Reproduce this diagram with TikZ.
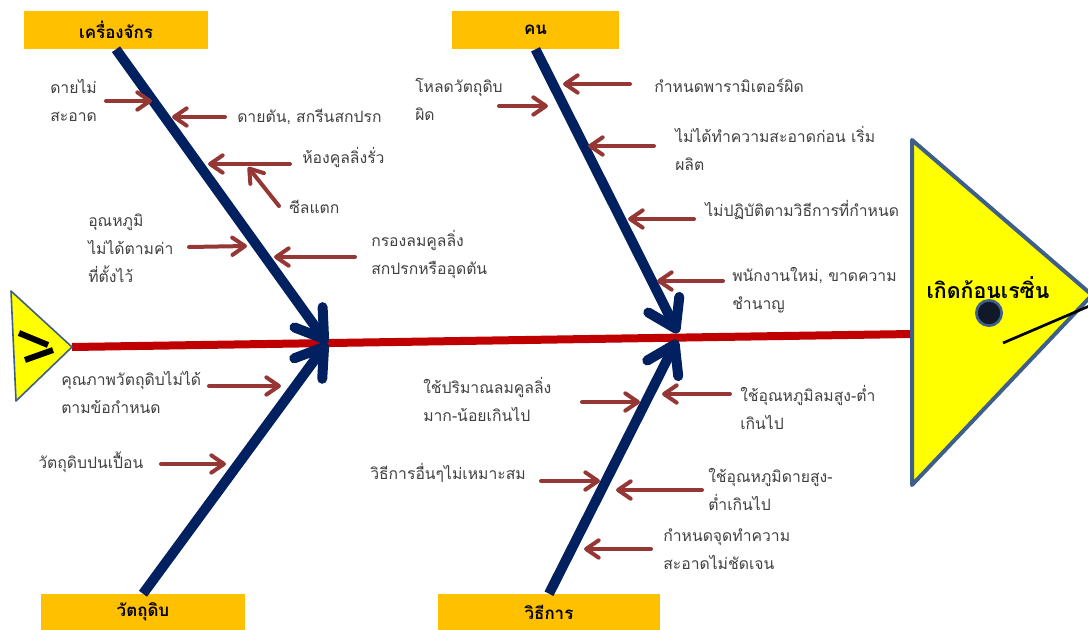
\documentclass[tikz,border=0pt]{standalone}
\usepackage{fontspec}
\newfontfamily\thaifont[Script=Thai]{Loma}
\usetikzlibrary{arrows.meta}
\definecolor{navy}{HTML}{002060}
\definecolor{spinered}{HTML}{C00000}
\definecolor{causered}{HTML}{953735}
\definecolor{catorange}{HTML}{FFC000}
\definecolor{headyellow}{HTML}{FFFF00}
\definecolor{triborder}{HTML}{3E5F8C}
\definecolor{txtgray}{HTML}{404040}
\definecolor{dotfill}{HTML}{111827}
\tikzset{
  catbox/.style={fill=catorange, draw=none, inner sep=0pt, minimum height=28.5pt,
    font=\thaifont\bfseries\fontsize{12.7}{15}\selectfont, text=black},
  causetxt/.style={anchor=base west, inner sep=0pt, align=left, text=txtgray,
    font=\thaifont\fontsize{11.8}{21}\selectfont},
  cause/.style={draw=causered, line width=3pt, line cap=round,
    -{Straight Barb[length=9.5pt,width=13pt,round]}},
  bone/.style={draw=navy, line width=7.5pt,
    -{Straight Barb[length=20pt,width=26pt,round]}},
  spine/.style={draw=spinered, line width=6pt},
  headtri/.style={fill=headyellow, draw=triborder, line width=3pt, line join=round},
  tailtri/.style={fill=headyellow, draw=triborder, line width=1.2pt, line join=round},
  tailmark/.style={draw=black, line width=4.5pt},
}
\begin{document}
\begin{tikzpicture}[x=0.75pt,y=-0.75pt]
\useasboundingbox (0,0) rectangle (1088,629);
\clip (0,0) rectangle (1088,629);

% category boxes
\node[catbox, minimum width=138pt] (mach) at (116,30) {เครื่องจักร};
\node[catbox, minimum width=125.25pt] (ppl) at (535.5,30) {คน};
\node[catbox, minimum width=153pt, minimum height=27pt] (mat) at (143,612) {วัตถุดิบ};
\node[catbox, minimum width=166.5pt, minimum height=27pt] (meth) at (549,612) {วิธีการ};

% spine
\coordinate (tailtip) at (72,347);
\coordinate (headmid) at (912,334);
\draw[spine] (tailtip) -- (headmid);

% bones
\coordinate (J1) at (327,343);
\coordinate (J2a) at (678,333);
\coordinate (J2b) at (677,340);
\draw[bone] (mach.south) -- (J1);
\draw[bone] (mat.north) -- (J1);
\draw[bone] (ppl.south) -- (J2a);
\draw[bone] (meth.north) -- (J2b);

% head
\coordinate (hA) at (912,140);
\coordinate (hB) at (1092,295);
\coordinate (hC) at (912,485);
\draw[headtri] (hA) -- (hB) -- (hC) -- cycle;
\node[inner sep=0pt, font=\thaifont\bfseries\fontsize{16}{19}\selectfont] (effect) at (988,288) {เกิดก้อนเรซิ่น};
\node[circle, fill=dotfill, draw=triborder, line width=2pt, minimum size=19pt, inner sep=0pt] (dot) at (989,313) {};
\coordinate (ln1) at (1003,343);
\coordinate (ln2) at (1094,304);
\draw[black, line width=2pt] (ln1) -- (ln2);

% tail
\coordinate (tA) at (11,291);
\coordinate (tC) at (16,401);
\draw[tailtri] (tA) -- (tailtip) -- (tC) -- cycle;
\coordinate (m1a) at (19,333);
\coordinate (m1b) at (48,345);
\coordinate (m2a) at (25,360);
\coordinate (m2b) at (53,350);
\draw[tailmark] (m1a) -- (m1b);
\draw[tailmark] (m2a) -- (m2b);

% machine causes (base = last line baseline)
\node[causetxt] (tM1) at (50,121) {ดายไม่\\สะอาด};
\node[causetxt] (tM2) at (237,122) {ดายตัน, สกรีนสกปรก};
\node[causetxt] (tM3) at (302,163) {ห้องคูลลิ่งรั่ว};
\node[causetxt] (tM4) at (289,213) {ซีลแตก};
\node[causetxt] (tM5) at (88,282) {อุณหภูมิ\\ไม่ได้ตามค่า\\ที่ตั้งไว้};
\node[causetxt] (tM6) at (371,274) {กรองลมคูลลิ่ง\\สกปรกหรืออุดตัน};
\coordinate (aM1s) at (106,101); \coordinate (aM1e) at (152,101);
\coordinate (aM2s) at (225,117); \coordinate (aM2e) at (172,117);
\coordinate (aM3s) at (290,164); \coordinate (aM3e) at (208,164);
\coordinate (aM4s) at (279,206); \coordinate (aM4e) at (248,167);
\coordinate (aM5s) at (189,247); \coordinate (aM5e) at (247,246);
\coordinate (aM6s) at (355,257); \coordinate (aM6e) at (274,257);
\draw[cause] (aM1s) -- (aM1e);
\draw[cause] (aM2s) -- (aM2e);
\draw[cause] (aM3s) -- (aM3e);
\draw[cause] (aM4s) -- (aM4e);
\draw[cause] (aM5s) -- (aM5e);
\draw[cause] (aM6s) -- (aM6e);

% people causes
\node[causetxt] (tP1) at (415,120) {โหลดวัตถุดิบ\\ผิด};
\node[causetxt] (tP2) at (654,92) {กำหนดพารามิเตอร์ผิด};
\node[causetxt] (tP3) at (675,170) {ไม่ได้ทำความสะอาดก่อน เริ่ม\\ผลิต};
\node[causetxt] (tP4) at (705,216) {ไม่ปฏิบัติตามวิธีการที่กำหนด};
\node[causetxt] (tP5) at (732,309) {พนักงานใหม่, ขาดความ\\ชำนาญ};
\coordinate (aP1s) at (499,106); \coordinate (aP1e) at (548,106);
\coordinate (aP2s) at (630,84); \coordinate (aP2e) at (563,84);
\coordinate (aP3s) at (654,146); \coordinate (aP3e) at (588,146);
\coordinate (aP4s) at (694,219); \coordinate (aP4e) at (628,219);
\coordinate (aP5s) at (723,281); \coordinate (aP5e) at (657,281);
\draw[cause] (aP1s) -- (aP1e);
\draw[cause] (aP2s) -- (aP2e);
\draw[cause] (aP3s) -- (aP3e);
\draw[cause] (aP4s) -- (aP4e);
\draw[cause] (aP5s) -- (aP5e);

% material causes
\node[causetxt] (tR1) at (61,413) {คุณภาพวัตถุดิบไม่ได้\\ตามข้อกำหนด};
\node[causetxt] (tR2) at (38,468) {วัตถุดิบปนเปื้อน};
\coordinate (aR1s) at (209,386); \coordinate (aR1e) at (281,386);
\coordinate (aR2s) at (161,464); \coordinate (aR2e) at (226,464);
\draw[cause] (aR1s) -- (aR1e);
\draw[cause] (aR2s) -- (aR2e);

% method causes
\node[causetxt] (tW1) at (423,421) {ใช้ปริมาณลมคูลลิ่ง\\มาก-น้อยเกินไป};
\node[causetxt] (tW2) at (740,429) {ใช้อุณหภูมิลมสูง-ต่ำ\\เกินไป};
\node[causetxt] (tW3) at (370,479) {วิธีการอื่นๆไม่เหมาะสม};
\node[causetxt] (tW4) at (708,510) {ใช้อุณหภูมิดายสูง-\\ต่ำเกินไป};
\node[causetxt] (tW5) at (663,569) {กำหนดจุดทำความ\\สะอาดไม่ชัดเจน};
\coordinate (aW1s) at (582,402); \coordinate (aW1e) at (640,402);
\coordinate (aW2s) at (730,394); \coordinate (aW2e) at (662,394);
\coordinate (aW3s) at (541,481); \coordinate (aW3e) at (600,481);
\coordinate (aW4s) at (702,490); \coordinate (aW4e) at (616,490);
\coordinate (aW5s) at (651,549); \coordinate (aW5e) at (584,549);
\draw[cause] (aW1s) -- (aW1e);
\draw[cause] (aW2s) -- (aW2e);
\draw[cause] (aW3s) -- (aW3e);
\draw[cause] (aW4s) -- (aW4e);
\draw[cause] (aW5s) -- (aW5e);
\end{tikzpicture}
\end{document}
